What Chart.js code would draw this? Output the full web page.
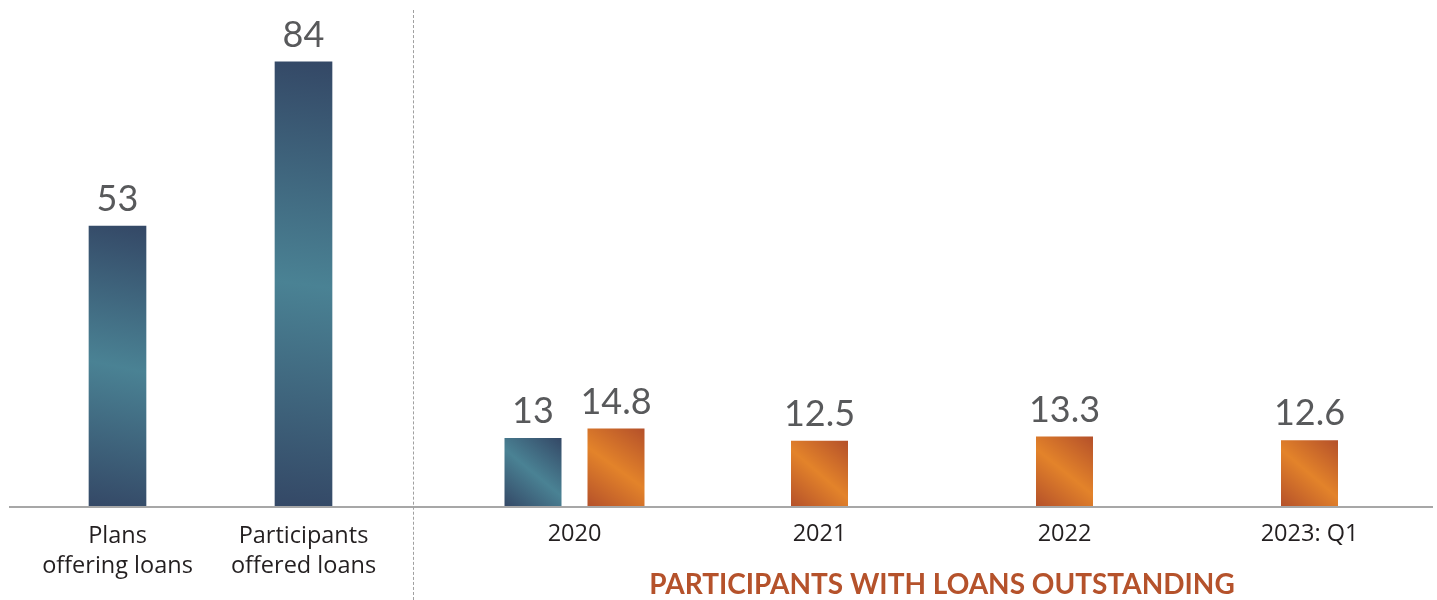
<!DOCTYPE html>
<html>
<head>
<meta charset="utf-8">
<script src="https://cdn.jsdelivr.net/npm/chart.js@4.4.0/dist/chart.umd.min.js"></script>
<style>
    html, body { margin: 0; padding: 0; background: #fff; }
    #wrap { position: relative; width: 1437px; height: 600px; }
    #left { position: absolute; left: 0; top: 0; width: 413px; height: 600px; }
    #right { position: absolute; left: 413px; top: 0; width: 1024px; height: 600px; }
    #divider { position: absolute; left: 413px; top: 10px; height: 590px; border-left: 1px dashed #a0a0a0; }
</style>
</head>
<body>
<div id="wrap">
    <div id="left"><canvas id="offerChart"></canvas></div>
    <div id="right"><canvas id="outstandingChart"></canvas></div>
    <div id="divider"></div>
</div>
<script>
// Data

const offerLabels = [['Plans', 'offering loans'], ['Participants', 'offered loans']];
const offerValues = [53, 84];

const yearLabels = ['2020', '2021', '2022', '2023: Q1'];
const offeredByYear = [13, null, null, null];
const outstandingByYear = [14.8, 12.5, 13.3, 12.6];
const outstandingTitle = 'PARTICIPANTS WITH LOANS OUTSTANDING';

const FONT = 'Lato';
const TICK_FONT = 'Open Sans';
const shades = {
    teal: ['#344866', '#4a8294'],
    orange: ['#b4502a', '#e3832a']
};

// Plugins

// diagonal gradient on every bar: dark corners, light middle
const barGradient = {
    id: 'barGradient',
    beforeDatasetsDraw(chart) {
        const c = chart.ctx;
        chart.data.datasets.forEach((ds, i) => {
            const meta = chart.getDatasetMeta(i);
            meta.data.forEach((el, j) => {
                if (ds.data[j] == null) return;
                const p = el.getProps(['x', 'y', 'base', 'width'], true);
                if (!isFinite(p.x) || !isFinite(p.y)) return;
                const [dark, light] = shades[ds.shade];
                const g = c.createLinearGradient(p.x + p.width / 2, p.y, p.x - p.width / 2, p.base);
                g.addColorStop(0, dark);
                g.addColorStop(0.5, light);
                g.addColorStop(1, dark);
                el.options.backgroundColor = g;
            });
        });
    }
};

// value on top of each bar + the grey base line
const barValues = {
    id: 'barValues',
    afterDatasetsDraw(chart, args, opts) {
        const c = chart.ctx;
        const y0 = chart.scales.y.getPixelForValue(0);
        c.save();
        c.strokeStyle = '#a7a7a7';
        c.lineWidth = 2;
        c.beginPath();
        c.moveTo(opts.lineFrom, y0);
        c.lineTo(opts.lineTo, y0);
        c.stroke();

        c.fillStyle = '#58595b';
        c.font = '36px ' + FONT;
        c.textAlign = 'center';
        c.textBaseline = 'alphabetic';
        chart.data.datasets.forEach((ds, i) => {
            const meta = chart.getDatasetMeta(i);
            meta.data.forEach((el, j) => {
                const v = ds.data[j];
                if (v == null) return;
                c.fillText(String(v), el.x, el.y - 15);
            });
        });
        c.restore();
    }
};

function xAxis(pad, title) {
    return {
        grid: { display: false, drawTicks: false },
        border: { display: false },
        ticks: {
            color: '#231f20',
            font: { family: TICK_FONT, size: 23.5, lineHeight: 1.28 },
            padding: pad,
            maxRotation: 0,
            autoSkip: false
        },
        title: title ? {
            display: true,
            text: title,
            color: '#b5522b',
            font: { family: FONT, size: 28, weight: 'bold', lineHeight: 1.05 },
            padding: { top: 0, bottom: 0 }
        } : { display: false },
        afterFit: (scale) => { scale.height = 93; }
    };
}

const yAxis = { display: false, min: 0, max: 90 };

const ctxOffer = document.getElementById('offerChart').getContext('2d');
const offerChart = new Chart(ctxOffer, {
    type: 'bar',
    data: {
        labels: offerLabels,
        datasets: [{
            data: offerValues,
            shade: 'teal',
            backgroundColor: () => '#4a8294',
            barThickness: 57
        }]
    },
    options: {
        responsive: true,
        maintainAspectRatio: false,
        animation: false,
        events: [],
        layout: { padding: { left: 24.5, right: 16.5, top: 30, bottom: 0 } },
        plugins: {
            legend: { display: false },
            tooltip: { enabled: false },
            barValues: { lineFrom: 9, lineTo: 413 }
        },
        scales: { x: xAxis(14), y: yAxis }
    },
    plugins: [barGradient, barValues]
});

const ctxOut = document.getElementById('outstandingChart').getContext('2d');
const outstandingChart = new Chart(ctxOut, {
    type: 'bar',
    data: {
        labels: yearLabels,
        datasets: [{
            data: offeredByYear,
            shade: 'teal',
            backgroundColor: () => '#4a8294'
        }, {
            data: outstandingByYear,
            shade: 'orange',
            backgroundColor: () => '#e3832a'
        }]
    },
    options: {
        responsive: true,
        maintainAspectRatio: false,
        animation: false,
        events: [],
        skipNull: true,
        categoryPercentage: 166 / 245,
        barPercentage: 0.9,
        maxBarThickness: 57,
        layout: { padding: { left: 39, right: 5, top: 30, bottom: 0 } },
        plugins: {
            legend: { display: false },
            tooltip: { enabled: false },
            barValues: { lineFrom: 0, lineTo: 1020 }
        },
        scales: { x: xAxis(12, outstandingTitle), y: yAxis }
    },
    plugins: [barGradient, barValues]
});
</script>
</body>
</html>
